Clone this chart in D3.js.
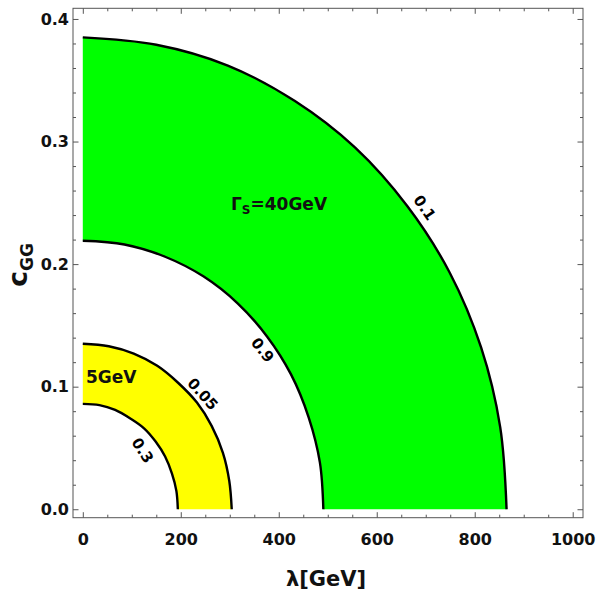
<!DOCTYPE html>
<html>
<head>
<meta charset="utf-8">
<script src="https://cdn.jsdelivr.net/npm/d3@7"></script>
<style>
  html, body { margin: 0; padding: 0; background: #fff; }
  svg { display: block; font-family: "DejaVu Sans", sans-serif; }
</style>
</head>
<body>
<svg id="chart" width="596" height="593"></svg>
<script>
// Contour lines of the total width in the (lambda, c_GG) plane.
// Each curve: lambda [GeV] and c_GG sampled along the contour.
const green40Outer_lambda = [0, 150, 296, 433, 556, 663, 749, 813, 852, 865];
const green40Outer_c      = [0.385, 0.379, 0.362, 0.333, 0.295, 0.247, 0.193, 0.132, 0.067, 0];
const green40Inner_lambda = [0, 85, 168, 246, 316, 376, 425, 461, 484, 491];
const green40Inner_c      = [0.219, 0.216, 0.206, 0.190, 0.168, 0.141, 0.110, 0.075, 0.038, 0];
const yellow5Outer_lambda = [0, 53, 104, 152, 195, 233, 263, 286, 299, 304];
const yellow5Outer_c      = [0.135, 0.133, 0.127, 0.117, 0.103, 0.087, 0.068, 0.046, 0.023, 0];
const yellow5Inner_lambda = [0, 34, 66, 97, 125, 149, 168, 182, 191, 194];
const yellow5Inner_c      = [0.086, 0.085, 0.081, 0.074, 0.066, 0.055, 0.043, 0.029, 0.015, 0];

// Contour level labels
const contourLabels = ["0.1", "0.9", "0.05", "0.3"];
const contourLabelLambda = [698, 367, 245, 122];
const contourLabelC = [0.246, 0.130, 0.094, 0.048];
const contourLabelAngle = [55, 52, 48, 58];

// Axis ticks
const xTicks = [0, 200, 400, 600, 800, 1000];
const yTicks = [0.0, 0.1, 0.2, 0.3, 0.4];

const svg = d3.select("#chart");
const frame = { left: 73, right: 583, top: 8.3, bottom: 517.7 };

const x = d3.scaleLinear().domain([-20, 1021]).range([frame.left, frame.right]);
const y = d3.scaleLinear().domain([-0.0069, 0.4087]).range([frame.bottom, frame.top]);

const zip = (ls, cs) => ls.map((l, i) => [l, cs[i]]);
const line = d3.line().x(d => x(d[0])).y(d => y(d[1])).curve(d3.curveCatmullRom.alpha(0.5));

function bandPath(outer, inner) {
  const o = line(outer);
  const i = line(inner.slice().reverse()).replace(/^M/, "L");
  return o + i + "Z";
}

const g40o = zip(green40Outer_lambda, green40Outer_c);
const g40i = zip(green40Inner_lambda, green40Inner_c);
const y5o = zip(yellow5Outer_lambda, yellow5Outer_c);
const y5i = zip(yellow5Inner_lambda, yellow5Inner_c);

// Filled bands
svg.append("path").attr("d", bandPath(g40o, g40i)).attr("fill", "#00ff00");
svg.append("path").attr("d", bandPath(y5o, y5i)).attr("fill", "#ffff00");

// Contour lines
[g40o, g40i, y5o, y5i].forEach(c => {
  svg.append("path").attr("d", line(c))
    .attr("fill", "none").attr("stroke", "#000").attr("stroke-width", 2.4);
});

// Contour level labels
contourLabels.forEach((t, i) => {
  svg.append("text")
    .attr("transform", `translate(${x(contourLabelLambda[i])},${y(contourLabelC[i])}) rotate(${contourLabelAngle[i]})`)
    .attr("text-anchor", "middle").attr("dy", "0.35em")
    .attr("font-size", 15).attr("font-weight", "bold").attr("fill", "#000")
    .text(t);
});

// Band labels
const gl = svg.append("text").attr("x", 231).attr("y", 210)
  .attr("font-size", 17).attr("font-weight", "bold").attr("fill", "#111");
gl.append("tspan").text("Γ");
gl.append("tspan").attr("font-size", 12).attr("dy", 4).text("S");
gl.append("tspan").attr("dy", -4).text("=40GeV");

svg.append("text").attr("x", 86).attr("y", 383)
  .attr("font-size", 17).attr("font-weight", "bold").attr("fill", "#111")
  .text("5GeV");

// Frame ticks (inward on all four sides)
const fmtY = d3.format(".1f");
const frameColor = "#555";

function styleAxis(sel) {
  sel.select(".domain").remove();
  sel.selectAll(".tick line").attr("stroke", frameColor);
  sel.selectAll(".tick text").attr("fill", "#111").attr("font-size", 16).attr("font-weight", "bold")
    .attr("font-family", "DejaVu Sans, sans-serif");
}

const xMinor = d3.range(0, 1001, 50).filter(v => !xTicks.includes(v));
const yMinor = d3.range(0, 41, 2).map(v => v / 100).filter(v => !yTicks.some(t => Math.abs(t - v) < 1e-9));

// bottom
svg.append("g").attr("transform", `translate(0,${frame.bottom})`)
  .call(d3.axisBottom(x).tickValues(xTicks).tickSize(-5.5).tickPadding(16).tickFormat(d3.format("d"))).call(styleAxis);
svg.append("g").attr("transform", `translate(0,${frame.bottom})`)
  .call(d3.axisBottom(x).tickValues(xMinor).tickSize(-3).tickFormat("")).call(styleAxis);
// top
svg.append("g").attr("transform", `translate(0,${frame.top})`)
  .call(d3.axisTop(x).tickValues(xTicks).tickSize(-5.5).tickFormat("")).call(styleAxis);
svg.append("g").attr("transform", `translate(0,${frame.top})`)
  .call(d3.axisTop(x).tickValues(xMinor).tickSize(-3).tickFormat("")).call(styleAxis);
// left
svg.append("g").attr("transform", `translate(${frame.left},0)`)
  .call(d3.axisLeft(y).tickValues(yTicks).tickSize(-5.5).tickPadding(4).tickFormat(fmtY)).call(styleAxis);
svg.append("g").attr("transform", `translate(${frame.left},0)`)
  .call(d3.axisLeft(y).tickValues(yMinor).tickSize(-3).tickFormat("")).call(styleAxis);
// right
svg.append("g").attr("transform", `translate(${frame.right},0)`)
  .call(d3.axisRight(y).tickValues(yTicks).tickSize(-5.5).tickFormat("")).call(styleAxis);
svg.append("g").attr("transform", `translate(${frame.right},0)`)
  .call(d3.axisRight(y).tickValues(yMinor).tickSize(-3).tickFormat("")).call(styleAxis);

// Frame
svg.append("rect").attr("x", frame.left).attr("y", frame.top)
  .attr("width", frame.right - frame.left).attr("height", frame.bottom - frame.top)
  .attr("fill", "none").attr("stroke", frameColor).attr("stroke-width", 1);

// Axis titles
svg.append("text").attr("x", 326).attr("y", 586).attr("text-anchor", "middle")
  .attr("font-size", 21).attr("font-weight", "bold").attr("fill", "#111")
  .text("λ[GeV]");

const yl = svg.append("text").attr("transform", "translate(27,287) rotate(-90)")
  .attr("font-size", 27).attr("font-weight", "bold").attr("fill", "#111");
yl.append("tspan").text("c");
yl.append("tspan").attr("font-size", 17).attr("dy", 6).text("GG");
</script>
</body>
</html>
